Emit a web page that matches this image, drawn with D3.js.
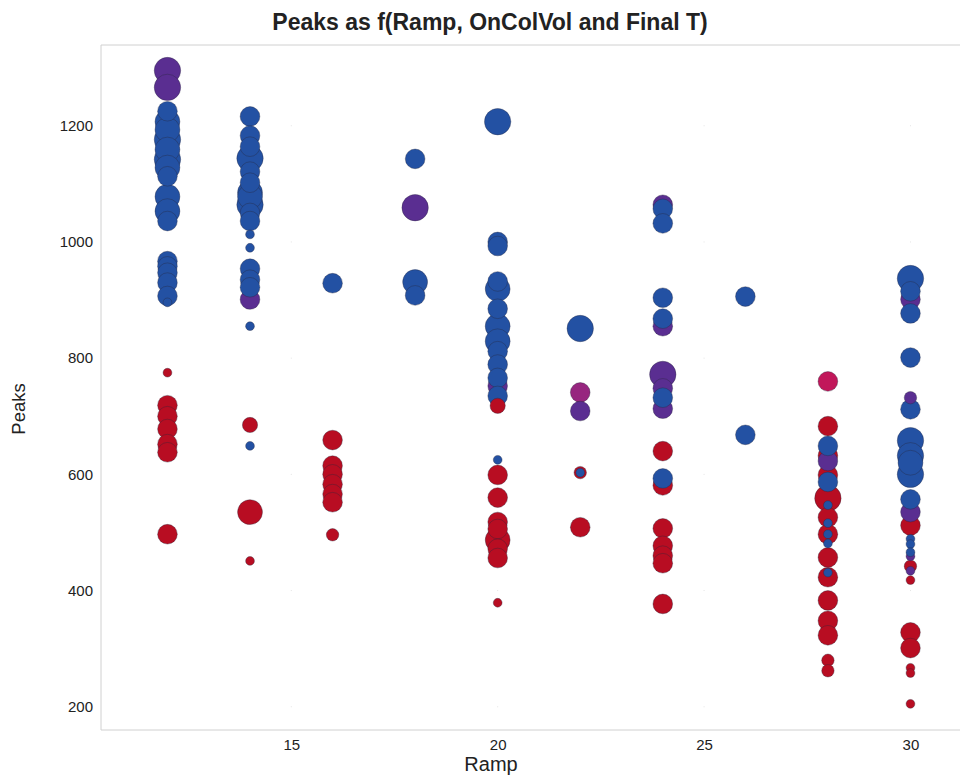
<!DOCTYPE html>
<html>
<head>
<meta charset="utf-8">
<script src="https://cdn.jsdelivr.net/npm/d3@7"></script>
<style>
  body { margin: 0; background: #fff; }
  text { font-family: "Liberation Sans", Arial, sans-serif; fill: #222; }
</style>
</head>
<body>
<svg width="961" height="776"></svg>
<script>
// [Ramp, Peaks, OnColVol] per Final T level
var blueT = [
  [12,1225,5],[12,1207,8],[12,1193,8],[12,1176,9],[12,1159,8],[12,1142,9],[12,1128,8],[12,1113,5],
  [12,1078,8],[12,1053,8],[12,1036,5],[12,967,5],[12,958,5],[12,947,5],[12,930,5],[12,907,5],[12,896,1],
  [14,1216,5],[14,1183,5],[14,1164,5],[14,1144,9],[14,1121,5],[14,1102,5],[14,1085,8],[14,1078,8],
  [14,1064,9],[14,1050,5],[14,1036,5],[14,1013,1],[14,990,1],[14,954,5],[14,935,5],[14,922,5],
  [14,855,1],[14,649,1],
  [16,929,5],
  [18,1143,5],[18,931,8],[18,908,5],
  [20,1207,9],[20,1000,5],[20,993,5],[20,932,5],[20,919,8],[20,885,5],[20,855,8],[20,829,8],
  [20,812,5],[20,789,5],[20,766,5],[20,735,5],[20,625,1],
  [22,851,9],[22,603,1],
  [24,1057,5],[24,1032,5],[24,904,5],[24,868,5],[24,732,5],[24,593,5],
  [26,906,5],[26,668,5],
  [28,649,5],[28,587,5],[28,547,1],[28,516,1],[28,497,1],[28,481,1],[28,431,1],
  [30,937,9],[30,915,5],[30,877,5],[30,801,5],[30,712,5],[30,658,9],[30,632,9],[30,620,8],
  [30,600,9],[30,557,5],[30,489,1],[30,480,1],[30,466,1]
];
var purpleT = [
  [12,1295,9],[12,1266,9],[14,901,5],[18,1059,9],[20,752,5],[22,709,5],
  [24,1064,5],[24,855,5],[24,772,9],[24,748,5],[24,713,5],[28,623,5],
  [30,901,5],[30,732,2],[30,535,5],[30,459,1],[30,434,1]
];
var magentaT = [[22,741,5]];
var pinkT = [[28,760,5]];
var redT = [
  [12,775,1],[12,719,5],[12,700,5],[12,678,5],[12,652,5],[12,638,5],[12,497,5],
  [14,685,3],[14,535,8],[14,451,1],
  [16,659,5],[16,615,5],[16,600,5],[16,583,5],[16,566,5],[16,552,5],[16,496,2],
  [20,718,3],[20,599,5],[20,560,5],[20,518,5],[20,506,5],[20,487,8],[20,472,5],[20,456,5],[20,379,1],
  [22,603,2],[22,509,5],
  [24,640,5],[24,581,5],[24,507,5],[24,477,5],[24,460,5],[24,447,5],[24,377,5],
  [28,683,5],[28,632,5],[28,599,5],[28,559,9],[28,526,5],[28,497,5],[28,457,5],[28,423,5],
  [28,383,5],[28,348,5],[28,323,5],[28,280,2],[28,262,2],
  [30,512,5],[30,442,2],[30,418,1],[30,328,5],[30,301,5],[30,267,1],[30,258,1],[30,205,1]
];
var tempLevels = ["T5", "T4", "T3", "T2", "T1"];
var xTicks = [15, 20, 25, 30];
var yTicks = [200, 400, 600, 800, 1000, 1200];

var svg = d3.select("svg");
var plotL = 101, plotT = 45, plotR = 960, plotB = 730;

var x = d3.scaleLinear().domain([10.39, 31.2]).range([plotL, plotR]);
var y = d3.scaleLinear().domain([160, 1339]).range([plotB, plotT]);
var r = d3.scaleSqrt().domain([0, 9]).range([0, 13.2]);
var color = d3.scaleOrdinal()
  .domain(tempLevels)
  .range(["#b80d22", "#c1175a", "#97267f", "#5a2e91", "#2351a3"]);

var points = [];
[redT, pinkT, magentaT, purpleT, blueT].forEach(function (g, i) {
  g.forEach(function (d) {
    points.push({ramp: d[0], peaks: d[1], vol: d[2], t: tempLevels[i], order: i});
  });
});
// bigger bubbles first so small ones stay visible
points.sort(function (a, b) { return (b.vol - a.vol) || (a.order - b.order); });

// frame
svg.append("line").attr("x1", plotL).attr("x2", plotR).attr("y1", plotT).attr("y2", plotT)
  .attr("stroke", "#d0d0d0");
svg.append("line").attr("x1", plotL).attr("x2", plotR).attr("y1", plotB).attr("y2", plotB)
  .attr("stroke", "#d0d0d0");
svg.append("line").attr("x1", plotL).attr("x2", plotL).attr("y1", plotT).attr("y2", plotB)
  .attr("stroke", "#d0d0d0");

// faint grid dots
var grid = svg.append("g");
xTicks.forEach(function (xv) {
  yTicks.forEach(function (yv) {
    grid.append("rect").attr("x", x(xv) - 0.5).attr("y", y(yv) - 0.5)
      .attr("width", 1).attr("height", 1).attr("fill", "#e4e4e4");
  });
});

// axes
var xAxis = svg.append("g").attr("transform", "translate(0," + plotB + ")")
  .call(d3.axisBottom(x).tickValues(xTicks).tickSize(0).tickPadding(9));
var yAxis = svg.append("g").attr("transform", "translate(" + plotL + ",0)")
  .call(d3.axisLeft(y).tickValues(yTicks).tickFormat(d3.format("d")).tickSize(0).tickPadding(8));
[xAxis, yAxis].forEach(function (a) {
  a.select(".domain").remove();
  a.selectAll("text").attr("font-size", 15).attr("fill", "#222")
    .attr("font-family", "Liberation Sans, Arial, sans-serif");
});

// bubbles
svg.append("g").selectAll("circle")
  .data(points)
  .enter()
  .append("circle")
  .attr("cx", function (d) { return x(d.ramp); })
  .attr("cy", function (d) { return y(d.peaks); })
  .attr("r", function (d) { return r(d.vol); })
  .attr("fill", function (d) { return color(d.t); })
  .attr("stroke", "rgba(40,40,60,0.45)")
  .attr("stroke-width", 0.8);

// titles
svg.append("text").attr("x", 490).attr("y", 30).attr("text-anchor", "middle")
  .attr("font-size", 23).attr("font-weight", "bold")
  .text("Peaks as f(Ramp, OnColVol and Final T)");
svg.append("text").attr("x", 491).attr("y", 771).attr("text-anchor", "middle")
  .attr("font-size", 20).text("Ramp");
svg.append("text").attr("transform", "translate(25,409) rotate(-90)")
  .attr("text-anchor", "middle").attr("font-size", 18.5).text("Peaks");
</script>
</body>
</html>
